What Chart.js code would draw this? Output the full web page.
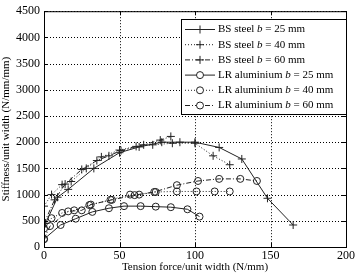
<!DOCTYPE html>
<html>
<head>
<meta charset="utf-8">
<script src="https://cdn.jsdelivr.net/npm/chart.js@4"></script>
<style>
  body { margin: 0; background: #fff; }
  #wrap { width: 358px; height: 274px; }
</style>
</head>
<body>
<div id="wrap"><canvas id="stiffChart" width="358" height="274"></canvas></div>
<script>
// values
const xTicks = [0, 50, 100, 150, 200];
const yTicks = [0, 500, 1000, 1500, 2000, 2500, 3000, 3500, 4000, 4500];

const bs25X = [1, 9, 16, 33, 50, 63, 78, 90, 100, 116, 131, 148, 165];
const bs25Y = [450, 950, 1100, 1500, 1800, 1910, 2000, 2000, 2000, 1900, 1680, 930, 420];

const bs40X = [0, 5, 12, 18, 28, 38, 50, 61, 72, 85, 100, 112, 123];
const bs40Y = [780, 1000, 1190, 1250, 1500, 1720, 1850, 1920, 1950, 1980, 1980, 1740, 1570];

const bs60X = [0, 7, 14, 25, 35, 43, 51, 66, 77, 84];
const bs60Y = [450, 900, 1200, 1480, 1650, 1740, 1840, 1950, 2040, 2110];

const lr25X = [0, 11, 21, 32, 43, 53, 64, 74, 84, 95, 103];
const lr25Y = [150, 420, 540, 670, 740, 780, 780, 770, 760, 720, 580];

const lr40X = [0, 5, 12, 20, 30, 44, 57, 63, 74, 88, 101, 113, 123];
const lr40Y = [350, 550, 650, 700, 800, 900, 1000, 1000, 1050, 1060, 1060, 1060, 1060];

const lr60X = [0, 4, 16, 25, 31, 45, 60, 73, 88, 102, 116, 130, 141];
const lr60Y = [150, 400, 680, 700, 810, 900, 990, 1050, 1180, 1260, 1300, 1300, 1260];

const labels = ['BS steel', 'BS steel', 'BS steel', 'LR aluminium', 'LR aluminium', 'LR aluminium'];
const widths = ['25 mm', '40 mm', '60 mm', '25 mm', '40 mm', '60 mm'];

const serif = '"Liberation Serif", "DejaVu Serif", serif';

const toPoints = function (xs, ys) {
  return xs.map((x, i) => ({ x: x, y: ys[i] }));
};

const makeSet = function (xs, ys, style, dash) {
  return {
    data: toPoints(xs, ys),
    showLine: true,
    borderColor: '#222',
    backgroundColor: 'rgba(0,0,0,0)',
    borderWidth: 1,
    borderDash: dash,
    pointStyle: style,
    pointRadius: style == 'cross' ? 4 : 3.5,
    pointBorderColor: '#222',
    pointBorderWidth: 1,
    tension: 0
  };
};

const dotted = [1, 2];
const dashDot = [5, 2, 1, 2];

// dotted grid behind the lines
const gridPlugin = {
  id: 'dotgrid',
  beforeDatasetsDraw: function (chart) {
    const c = chart.ctx;
    const a = chart.chartArea;
    const xs = chart.scales.x;
    const ys = chart.scales.y;
    c.save();
    c.strokeStyle = '#000';
    c.lineWidth = 1;
    c.setLineDash([1, 2]);
    c.beginPath();
    for (const t of yTicks) {
      const py = Math.round(ys.getPixelForValue(t)) + 0.5;
      c.moveTo(a.left, py); c.lineTo(a.right, py);
    }
    for (const t of xTicks) {
      const px = Math.round(xs.getPixelForValue(t)) + 0.5;
      c.moveTo(px, a.top); c.lineTo(px, a.bottom);
    }
    c.stroke();
    c.restore();
  }
};

// frame, inward ticks and legend box
const framePlugin = {
  id: 'frame',
  afterDraw: function (chart) {
    const c = chart.ctx;
    const a = chart.chartArea;
    const xs = chart.scales.x;
    const ys = chart.scales.y;
    c.save();
    c.strokeStyle = '#000';
    c.lineWidth = 1;
    c.setLineDash([]);
    c.strokeRect(a.left + 0.5, a.top + 0.5, a.right - a.left, a.bottom - a.top);
    c.beginPath();
    for (const t of yTicks) {
      const py = Math.round(ys.getPixelForValue(t)) + 0.5;
      c.moveTo(a.left, py); c.lineTo(a.left + 4, py);
      c.moveTo(a.right, py); c.lineTo(a.right - 4, py);
    }
    for (const t of xTicks) {
      const px = Math.round(xs.getPixelForValue(t)) + 0.5;
      c.moveTo(px, a.bottom); c.lineTo(px, a.bottom - 4);
      c.moveTo(px, a.top); c.lineTo(px, a.top + 4);
    }
    c.stroke();

    // legend
    const bx = 181, by = 19, bw = 165, bh = 95;
    c.fillStyle = '#fff';
    c.fillRect(bx, by, bw, bh);
    c.strokeRect(bx + 0.5, by + 0.5, bw, bh);
    const sets = chart.data.datasets;
    for (let i = 0; i < sets.length; i++) {
      const ds = sets[i];
      const cy = by + 10.5 + i * 15.2;
      c.strokeStyle = '#222';
      c.setLineDash(ds.borderDash || []);
      c.beginPath();
      c.moveTo(bx + 4, cy); c.lineTo(bx + 34, cy);
      c.stroke();
      c.setLineDash([]);
      c.beginPath();
      if (ds.pointStyle == 'cross') {
        c.moveTo(bx + 19, cy - 4); c.lineTo(bx + 19, cy + 4);
        c.moveTo(bx + 15, cy); c.lineTo(bx + 23, cy);
      } else {
        c.fillStyle = '#fff';
        c.arc(bx + 19, cy, 3.5, 0, Math.PI * 2);
        c.fill();
      }
      c.stroke();
      c.fillStyle = '#000';
      c.textBaseline = 'middle';
      let tx = bx + 37;
      c.font = '11px ' + serif;
      const p1 = labels[i] + ' ';
      c.fillText(p1, tx, cy);
      tx += c.measureText(p1).width;
      c.font = 'italic 11px ' + serif;
      c.fillText('b', tx, cy);
      tx += c.measureText('b').width;
      c.font = '11px ' + serif;
      c.fillText(' = ' + widths[i], tx, cy);
    }
    c.restore();
  }
};

let chart;

const drawChart = function () {
  const ctx = document.getElementById('stiffChart').getContext('2d');
  chart = new Chart(ctx, {
    type: 'scatter',
    data: {
      datasets: [
        makeSet(bs25X, bs25Y, 'cross', []),
        makeSet(bs40X, bs40Y, 'cross', dotted),
        makeSet(bs60X, bs60Y, 'cross', dashDot),
        makeSet(lr25X, lr25Y, 'circle', []),
        makeSet(lr40X, lr40Y, 'circle', dotted),
        makeSet(lr60X, lr60Y, 'circle', dashDot)
      ]
    },
    options: {
      responsive: false,
      animation: false,
      layout: { padding: { top: 6, right: 7, left: 0, bottom: 0 } },
      plugins: {
        legend: { display: false },
        tooltip: { enabled: false }
      },
      scales: {
        x: {
          type: 'linear',
          min: 0,
          max: 200,
          afterBuildTicks: function (s) { s.ticks = xTicks.map(v => ({ value: v })); },
          afterFit: function (s) { s.height = 27; },
          grid: { display: false, drawTicks: false },
          border: { display: false },
          ticks: { color: '#000', padding: 3, font: { family: serif, size: 12, lineHeight: 1 }, callback: v => String(v) },
          title: { display: true, text: 'Tension force/unit width (N/mm)', color: '#000', padding: { top: 0, bottom: 1 }, font: { family: serif, size: 11, lineHeight: 1 } }
        },
        y: {
          type: 'linear',
          min: 0,
          max: 4500,
          afterBuildTicks: function (s) { s.ticks = yTicks.map(v => ({ value: v })); },
          afterFit: function (s) { s.width = 44; },
          grid: { display: false, drawTicks: false },
          border: { display: false },
          ticks: { color: '#000', padding: 4, font: { family: serif, size: 12 }, callback: v => String(v) },
          title: { display: true, text: 'Stiffness/unit width (N/mm/mm)', color: '#000', padding: 0, font: { family: serif, size: 11 } }
        }
      }
    },
    plugins: [gridPlugin, framePlugin]
  });
};

document.addEventListener('DOMContentLoaded', function () {
  drawChart();
});
</script>
</body>
</html>
